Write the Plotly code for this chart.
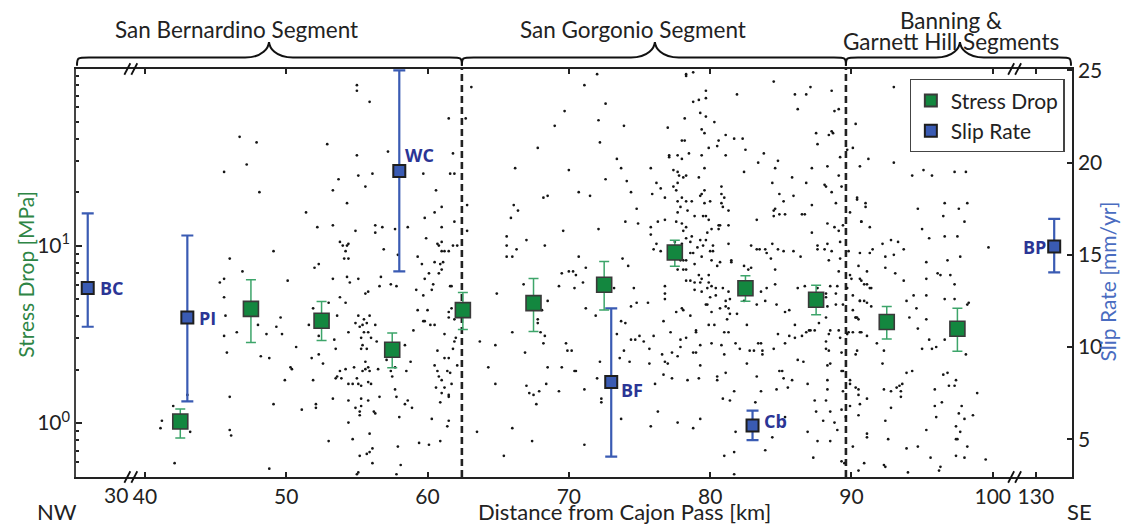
import plotly.graph_objects as go

# ---------------- data ----------------
# stress drop (MPa) binned along strike: distance [km], value, upper, lower
sd_km = [42.5, 47.5, 52.5, 57.5, 62.5, 67.5, 72.5, 77.5, 82.5, 87.5, 92.5, 97.5]
sd_val = [1.02, 4.40, 3.77, 2.59, 4.33, 4.74, 6.01, 9.14, 5.75, 4.95, 3.71, 3.40]
sd_hi = [1.20, 6.41, 4.84, 3.22, 5.44, 6.52, 8.13, 10.7, 6.75, 5.98, 4.54, 4.44]
sd_lo = [0.823, 2.84, 2.92, 2.05, 3.37, 3.28, 4.33, 7.66, 4.86, 4.07, 2.98, 2.54]

# slip-rate sites: real distance [km], rate, upper, lower (mm/yr)
sr_site = ["BC", "PI", "WC", "BF", "Cb", "BP"]
sr_km = [28.0, 43.0, 58.0, 73.0, 83.0, 131.3]
sr_val = [13.2, 11.6, 19.55, 8.1, 5.75, 15.45]
sr_hi = [17.25, 16.05, 25.0, 12.1, 6.55, 16.95]
sr_lo = [11.1, 7.05, 14.1, 4.05, 4.95, 14.05]

# x tick labels on the broken axis
tick_km = [40, 50, 60, 70, 80, 90, 100, 130]
segment_bounds_km = [62.43, 89.61]

# background events (distance km, value in right-axis units)
events = [
 (46.7,21.4),(47.9,21.1),(47.2,19.9),(45.6,19.5),(48.1,18.4),(51.4,17.3),(52.2,16.5),(49.1,15.2),
 (46.0,14.8),(52.3,14.5),(52.0,14.3),(46.9,14.1),(45.6,13.7),(45.3,13.5),(50.1,13.6),(45.6,12.7),
 (51.9,12.1),(45.7,11.7),(49.6,11.6),(51.6,11.2),(48.0,11.2),(49.3,11.1),(46.5,10.8),(48.6,10.7),
 (49.7,10.7),(45.6,10.6),(52.3,10.6),(50.7,10.0),(45.8,9.7),(48.2,9.5),(48.8,9.4),(51.8,9.4),
 (52.3,9.6),(52.6,9.1),(50.3,8.9),(50.4,8.8),(49.9,8.2),(51.9,8.2),(46.0,7.3),(49.1,6.9),
 (51.1,6.6),(52.1,6.9),(52.1,6.7),(43.0,7.4),(42.0,6.8),(41.2,6.0),(41.1,5.6),(43.2,5.4),
 (46.0,5.5),(46.1,5.2),(42.1,3.7),(48.8,3.4),
 (55.0,24.2),(55.0,23.9),(55.9,23.3),(52.9,21.0),(57.2,20.6),(55.0,20.4),(56.1,19.4),(55.1,19.3),
 (53.7,19.1),(53.3,18.5),(55.6,18.7),(59.7,19.4),(54.3,17.8),(53.3,16.6),(54.9,16.3),(56.3,16.6),
 (56.3,16.2),(56.8,16.5),(57.7,16.4),(58.6,16.5),(53.8,15.7),(54.0,15.5),(54.3,15.5),(54.4,15.6),
 (54.2,15.2),(54.1,14.8),(54.4,14.8),(56.9,15.3),(57.9,15.0),(53.3,13.7),(54.3,13.8),(54.5,13.5),
 (55.1,13.7),(56.7,13.8),(56.6,13.3),(57.4,13.4),(57.8,13.3),(55.8,13.0),(55.6,12.9),(53.8,12.7),
 (54.2,12.4),(53.0,12.4),(53.6,11.7),(55.1,11.7),(55.9,11.7),(55.5,11.5),(54.9,11.3),(55.2,11.1),
 (55.4,11.2),(55.7,11.3),(56.3,11.2),(54.4,10.8),(55.5,10.8),(55.8,10.8),(55.3,10.5),(56.0,10.5),
 (53.4,10.4),(55.4,10.1),(55.3,9.9),(55.7,9.9),(56.4,10.3),(53.5,9.9),(58.4,10.1),(55.6,9.2),
 (57.1,9.3),(58.8,9.2),(57.7,8.9),(53.8,8.7),(54.2,8.8),(54.8,8.9),(55.6,8.8),(55.4,8.7),
 (55.8,8.9),(55.9,8.7),(56.5,8.8),(57.4,8.7),(58.5,8.7),(57.5,8.4),(53.6,8.4),(53.9,8.3),
 (53.5,8.3),(54.4,8.0),(54.7,8.0),(55.0,8.3),(55.1,8.0),(55.3,7.9),(55.8,8.1),(56.0,8.0),
 (57.7,7.7),(53.3,7.2),(54.4,7.1),(55.3,7.2),(55.8,7.1),(56.6,7.3),(57.8,7.3),(58.6,7.1),
 (58.4,6.9),(58.9,6.7),(54.9,6.7),(55.3,6.8),(55.2,6.5),(55.2,6.3),(56.2,6.5),(56.3,6.4),
 (58.0,6.2),(54.4,5.9),(55.9,5.3),(53.0,4.9),(54.7,5.0),(57.9,4.6),(56.1,4.5),(55.9,4.3),
 (55.7,4.2),(55.2,4.1),(56.1,3.7),(58.1,3.6),(55.1,3.2),(55.0,3.1),(57.8,3.1),
 (61.5,22.4),(61.8,20.5),(61.6,19.4),(61.9,19.4),(60.6,18.5),(61.0,17.6),(60.5,17.3),(59.8,17.0),
 (61.9,16.8),(61.0,16.5),(59.9,15.9),(60.7,15.6),(61.0,15.7),(60.8,15.5),(61.0,15.2),(61.2,15.2),
 (61.5,15.2),(61.8,15.5),(62.1,15.5),(59.3,14.9),(59.6,14.5),(60.5,14.6),(61.1,14.6),(60.9,14.5),
 (61.0,14.2),(60.8,14.0),(60.1,14.0),(59.8,13.7),(60.4,13.4),(60.3,13.1),(59.2,13.1),(59.7,12.8),
 (61.6,13.3),(61.7,13.3),(59.3,12.0),(60.0,12.0),(59.7,11.4),(59.8,11.4),(60.2,11.2),(60.5,11.2),
 (59.0,10.9),(61.5,11.9),(61.5,11.6),(61.7,12.1),(61.9,11.5),(61.2,10.7),(62.0,10.5),(61.9,10.3),
 (60.7,9.8),(61.8,9.9),(61.2,9.4),(61.5,9.4),(60.5,9.0),(62.1,9.0),(60.8,8.4),(60.7,8.7),
 (61.4,8.7),(61.6,8.6),(61.0,8.2),(61.7,8.0),(60.6,7.8),(61.2,7.8),(61.5,7.4),(61.5,7.3),
 (61.0,7.5),(60.9,7.0),(60.3,6.1),(61.5,6.0),(61.4,5.7),(59.4,4.8),(60.1,4.7),(60.9,4.9),
 (63.1,24.1),(62.7,22.4),(62.8,17.7),(62.8,16.3),(69.7,22.8),(69.0,22.0),(67.8,20.8),(66.2,19.7),
 (70.0,19.6),(68.2,18.1),(68.5,18.2),(66.1,17.7),(66.4,17.4),(65.9,17.0),(69.6,16.3),(65.6,16.0),
 (67.0,15.8),(65.6,15.5),(66.3,15.3),(68.3,15.5),(65.6,14.9),(66.0,14.9),(69.5,14.0),(70.0,14.1),
 (70.3,14.1),(70.5,13.9),(69.3,13.3),(70.4,13.2),(66.8,13.4),(64.9,12.9),(68.5,12.5),(68.1,12.0),
 (67.8,11.5),(67.8,11.3),(68.0,10.8),(68.3,10.6),(68.2,10.2),(69.8,10.2),(69.9,9.8),(70.2,9.8),
 (66.0,10.8),(63.7,10.3),(64.8,10.1),(66.9,9.7),(64.3,8.9),(68.5,8.9),(69.5,8.9),(70.4,8.7),
 (64.8,8.0),(67.0,7.9),(67.2,7.5),(67.5,7.4),(67.9,7.6),(68.4,8.0),(69.3,7.6),(67.7,6.9),
 (63.5,5.4),(66.0,5.6),(67.4,4.9),(65.4,4.1),
 (72.0,24.8),(71.1,24.2),(78.3,24.8),(78.3,24.7),(78.8,24.9),(84.5,24.4),(87.1,24.1),(86.0,23.7),
 (86.8,23.7),(79.7,23.9),(81.9,23.7),(72.6,23.2),(78.8,23.3),(79.2,23.4),(79.7,23.5),(86.2,22.9),
 (72.1,22.3),(78.2,22.4),(79.3,22.7),(79.7,22.5),(80.3,22.2),(73.9,22.0),(77.0,21.9),(79.4,21.8),
 (79.6,21.6),(87.5,21.6),(81.1,21.5),(72.2,21.1),(78.0,21.2),(78.2,21.2),(80.6,21.2),(81.7,21.3),
 (82.3,21.3),(79.9,20.8),(80.5,20.9),(87.6,21.0),(82.5,20.7),(77.1,20.4),(77.1,20.3),(77.7,20.4),
 (78.0,20.2),(78.5,20.5),(79.4,20.4),(81.1,20.4),(83.8,20.5),(73.4,20.2),(84.8,20.1),(83.4,20.0),
 (73.7,19.7),(75.8,19.7),(77.4,19.6),(79.6,19.7),(82.4,19.5),(84.6,19.7),(87.2,19.7),(77.7,19.5),
 (77.8,19.3),(78.1,19.2),(78.3,19.3),(79.2,19.2),(72.6,19.1),(74.1,19.0),(85.8,19.2),(76.2,18.9),
 (77.7,18.9),(84.4,18.9),(86.8,18.9),(80.8,18.7),(88.1,18.8),(76.5,18.6),(77.4,18.7),(77.6,18.5),
 (74.4,18.4),(70.7,18.4),(71.5,18.2),(75.9,18.3),(76.8,18.1),(78.0,18.1),(79.6,18.5),(79.4,18.3),
 (79.3,18.2),(80.8,18.3),(81.0,18.1),(85.9,18.2),(84.9,18.3),
 (74.8,17.5),(77.7,17.9),(77.9,17.6),(78.3,17.9),(78.7,17.9),(79.6,17.8),(80.0,17.9),(80.8,17.8),
 (80.9,17.6),(81.3,17.4),(77.7,17.3),(78.4,17.4),(84.5,17.4),(84.6,17.5),(85.2,17.9),(85.3,17.2),
 (84.5,17.1),(84.9,17.2),(86.5,17.2),(86.7,17.2),(87.2,17.7),(74.0,16.8),(74.9,16.7),(76.3,16.8),
 (76.8,16.9),(77.6,16.8),(78.0,16.7),(75.8,16.5),(78.3,16.5),(79.5,17.1),(79.7,17.1),(78.9,17.1),
 (79.9,16.9),(80.6,16.6),(80.7,16.6),(81.3,16.6),(83.3,16.9),(72.1,16.4),(78.1,16.3),(80.1,16.4),
 (75.8,16.1),(78.7,16.0),(78.3,15.9),(78.6,15.7),(79.3,15.8),(79.7,15.8),(80.6,16.4),(79.8,16.2),
 (87.2,16.2),(76.2,15.6),(76.0,15.3),(76.5,15.2),(77.5,15.7),(78.0,15.6),(79.1,15.4),(79.5,15.5),
 (80.2,15.5),(81.3,15.6),(82.9,15.5),(83.3,15.3),(83.5,15.3),(83.9,15.3),(84.4,15.6),(84.8,15.3),
 (85.2,15.2),(85.9,15.2),(87.6,15.5),(87.6,15.3),(88.1,15.3),(70.7,14.9),(73.8,14.8),(77.5,14.8),
 (77.9,14.7),(78.1,14.7),(78.3,14.7),(78.6,15.1),(78.8,15.1),(80.0,15.2),(80.2,15.2),(79.4,14.9),
 (84.0,15.1),(84.3,14.8),(86.4,14.9),(81.5,14.7),(81.5,14.6),(71.2,14.3),(74.2,14.4),(77.7,14.2),
 (78.1,14.2),(78.3,14.2),(78.9,14.5),(80.1,14.7),(80.5,14.4),(80.7,14.6),(82.4,14.4),(82.7,14.2),
 (82.9,14.3),(84.6,14.2),
 (71.0,13.5),(73.2,13.2),(74.6,13.2),(76.8,13.3),(76.8,12.9),(76.8,12.6),(78.3,13.6),(78.6,13.6),
 (78.9,13.5),(79.2,13.9),(79.4,13.7),(79.9,13.9),(79.3,13.5),(79.9,13.5),(80.1,13.3),(80.4,13.2),
 (78.9,13.1),(79.4,13.0),(79.8,13.2),(80.0,12.7),(80.4,12.8),(80.9,13.2),(81.3,13.0),(81.4,12.6),
 (81.1,12.5),(80.7,12.1),(81.1,12.2),(81.3,12.1),(81.4,11.8),(81.2,11.5),(81.9,11.8),(82.4,12.5),
 (83.3,12.3),(83.6,13.0),(83.9,12.5),(84.0,13.2),(84.6,13.4),(84.7,12.3),(85.3,11.9),(85.6,12.0),
 (86.2,13.2),(86.7,13.3),(87.6,13.2),(88.2,12.7),(71.2,12.1),(71.9,11.7),(74.4,12.2),(74.8,12.4),
 (75.6,12.4),(77.6,11.9),(78.0,12.1),(78.1,12.0),(78.6,11.7),(79.7,12.3),(79.8,12.3),(80.1,11.9),
 (73.7,11.4),(74.0,11.3),(76.7,11.4),(79.9,11.2),(80.3,11.2),(82.6,11.2),(86.0,11.2),(87.7,11.3),
 (88.2,11.6),(87.0,10.9),(86.8,10.8),(87.1,10.9),(87.4,10.9),
 (73.4,10.7),(74.4,10.4),(74.7,10.4),(75.0,10.6),(75.3,10.3),(76.0,10.6),(77.2,10.8),(77.9,10.4),
 (78.3,10.5),(79.0,10.9),(79.0,10.8),(81.0,10.8),(81.3,10.8),(81.8,10.2),(84.8,10.7),(85.6,10.6),
 (86.0,10.5),(86.5,10.6),(83.4,10.2),(83.6,10.2),(73.9,9.8),(75.7,9.9),(77.3,9.7),(77.9,10.0),
 (78.8,9.7),(79.0,9.7),(79.3,10.1),(80.1,10.2),(80.8,10.1),(82.1,9.9),(82.8,9.8),(83.1,9.8),
 (83.7,9.8),(84.5,9.9),(85.3,10.2),(88.2,10.3),(88.2,9.9),(73.6,9.4),(74.3,9.2),(76.6,9.6),
 (76.8,9.2),(77.0,9.1),(77.7,9.5),(79.3,9.0),(81.0,9.6),(83.7,9.6),(86.2,9.3),(86.6,9.2),
 (72.2,9.2),(70.5,8.7),(75.7,9.1),(76.7,8.5),(77.3,8.3),(78.4,8.2),(79.2,8.3),(80.5,8.4),
 (80.5,8.2),(81.1,8.6),(82.6,9.1),(83.3,8.4),(84.9,8.7),(85.1,8.7),(85.2,8.3),(85.8,8.2),
 (86.9,8.0),(72.0,8.3),(76.1,8.0),(85.5,7.8),(83.6,7.6),(81.7,7.6),(80.9,7.2),(81.4,7.1),
 (83.2,7.0),(84.7,7.7),(87.4,7.1),(88.2,7.1),
 (72.3,7.2),(72.3,7.0),(71.1,7.7),(73.7,6.1),(76.3,6.5),(79.3,6.1),(77.7,5.9),(75.8,5.7),
 (78.8,5.6),(81.8,5.4),(84.4,5.1),(85.3,6.2),(87.5,6.5),(88.0,6.0),(86.9,5.4),(87.6,4.9),
 (71.1,4.7),(81.0,4.1),(81.7,4.3),(83.9,4.4),(87.3,4.0),(81.7,3.1),
 (88.6,23.9),(89.1,22.9),(88.8,22.8),(88.7,21.6),(88.4,21.5),(88.6,21.7),(90.3,22.1),(90.1,20.8),
 (89.7,20.7),(89.2,20.3),(88.3,19.8),(90.6,19.8),(89.1,19.3),(88.2,18.7),(89.3,18.7),(88.6,18.4),
 (90.4,18.0),(88.9,17.8),(89.9,17.3),(88.3,16.7),(88.8,16.5),(89.4,16.6),(90.7,16.8),(89.1,16.3),
 (88.3,15.6),(89.2,15.7),(88.6,15.2),(88.4,14.7),(89.2,14.8),(90.6,15.1),(89.8,15.2),(89.1,14.1),
 (89.9,13.9),(90.0,13.7),(90.6,13.7),(88.5,13.3),(89.0,13.3),(89.7,13.2),(88.2,12.9),(88.9,12.9),
 (90.1,12.8),(90.6,12.5),(89.4,12.3),(88.9,12.3),(88.3,12.2),(90.1,12.0),(90.5,11.5),(90.3,11.6),
 (89.1,10.9),(88.5,10.9),(89.2,10.5),(89.7,10.7),(89.8,10.8),(90.1,10.8),(88.4,10.7),(90.6,10.8),
 (88.4,9.8),(89.3,9.7),(90.4,9.8),(90.3,9.6),(88.5,9.1),(88.3,9.0),(89.3,8.7),(89.4,8.7),
 (89.9,8.2),(89.9,8.0),(88.3,8.2),(90.3,7.8),(90.5,7.7),(89.4,7.6),(88.3,7.7),(90.5,7.4),
 (91.1,7.2),(90.6,6.9),(89.9,6.8),(88.5,6.5),(89.3,6.6),(90.5,6.3),(88.8,5.9),(89.6,6.2),
 (89.0,5.5),(91.1,5.3),(91.1,5.1),(88.5,4.9),(90.1,4.6),(89.3,3.8),(89.5,3.7),(90.9,3.7),
 (92.3,3.6),(92.4,3.5),(90.5,3.3),
 (93.0,24.1),(91.2,20.2),(93.0,20.0),(94.3,19.3),(95.1,19.6),(95.7,19.3),(97.3,19.5),(98.1,19.5),
 (91.0,17.8),(91.0,17.6),(90.7,16.8),(91.3,16.5),(90.4,18.1),(94.7,17.5),(96.6,17.8),(96.5,17.1),
 (97.6,17.5),(98.2,17.8),(98.0,16.8),(95.0,16.4),(95.5,15.9),(96.6,16.0),(97.5,16.0),(91.5,15.3),
 (91.3,15.1),(92.2,15.6),(92.8,15.8),(93.3,15.7),(93.7,15.3),(93.0,15.0),(92.4,14.9),(92.4,14.3),
 (90.5,14.4),(91.1,14.1),(90.7,13.6),(90.9,13.4),(91.1,13.4),(91.3,13.2),(91.4,13.2),(93.1,14.0),
 (93.7,13.6),(95.3,14.6),(96.8,14.7),(97.7,14.9),(96.1,14.0),(96.3,13.9),(97.0,13.9),(95.3,13.7),
 (97.3,13.4),(94.4,12.8),(95.3,12.8),(96.6,12.6),(97.3,12.6),(98.2,12.3),(98.3,12.4),(94.1,11.6),
 (94.6,12.1),(95.3,11.5),(94.7,11.0),(90.6,12.5),(90.9,12.5),(91.1,12.4),(91.4,12.2),(90.3,11.6),
 (90.4,11.6),(90.7,10.8),(91.1,10.6),(91.8,10.2),(92.3,9.8),(93.9,12.5),(95.0,9.9),(95.5,10.4),
 (95.7,9.9),(96.0,10.0),(96.6,10.4),(98.1,9.6),(92.2,9.1),(93.9,8.6),(94.3,8.7),(96.5,8.5),
 (96.8,8.6),(97.4,8.2),(96.9,7.9),(97.3,7.9),(95.9,7.7),(98.9,7.5),(92.3,7.7),(92.8,7.6),
 (93.2,7.8),(93.4,7.9),(93.6,8.0),(93.5,7.6),(93.5,7.3),(92.8,6.7),(92.4,6.0),(95.9,6.8),
 (96.4,7.0),(96.0,6.2),(97.8,6.8),(97.6,6.4),(98.6,6.3),(98.0,6.1),(97.4,5.7),(97.7,5.4),
 (95.3,5.5),(92.6,5.0),(93.9,4.5),(94.7,4.6),(95.6,4.0),(96.3,3.5),(96.2,3.3),(97.4,4.1),
 (98.0,4.0),(99.5,3.9),(97.4,5.0),(97.5,5.0),(98.2,4.6),(94.0,3.2),(99.7,15.4),
]
event_km = [e[0] for e in events]
event_val = [e[1] for e in events]

# ---------------- broken-axis mapping ----------------
X_RANGE = [35.12, 105.61]
LEFT_BREAK_POS, RIGHT_BREAK_POS = 37.95, 103.05


def to_axis(km):
    if km < 40:
        return LEFT_BREAK_POS + (km - 30)
    if km > 100:
        return RIGHT_BREAK_POS + (km - 130)
    return km


def xpaper(v):
    return (v - X_RANGE[0]) / (X_RANGE[1] - X_RANGE[0])


FONT = "Lato"
GREEN = "#13873f"
GREEN_BAR = "#3da56a"
BLUE = "#3a5bb3"
LABEL_BLUE = "#2b3595"
INK = "#222222"

fig = go.Figure()

# background events (on base linear axis so they sit underneath)
fig.add_trace(go.Scatter(
    x=[to_axis(v) for v in event_km], y=event_val, mode="markers",
    marker=dict(size=2.7, color="#151515"), showlegend=False, hoverinfo="skip",
    yaxis="y"))

# slip rate
fig.add_trace(go.Scatter(
    x=[to_axis(v) for v in sr_km], y=sr_val, mode="markers", name="Slip Rate",
    legendrank=2, yaxis="y",
    marker=dict(symbol="square", size=12, color=BLUE, line=dict(color="#1e1e1e", width=2)),
    error_y=dict(type="data", symmetric=False,
                 array=[h - v for h, v in zip(sr_hi, sr_val)],
                 arrayminus=[v - l for v, l in zip(sr_val, sr_lo)],
                 color=BLUE, thickness=2.2, width=6)))

# stress drop (log axis overlay)
fig.add_trace(go.Scatter(
    x=sd_km, y=sd_val, mode="markers", name="Stress Drop", legendrank=1, yaxis="y2",
    marker=dict(symbol="square", size=15, color=GREEN, line=dict(color="#3a3a3a", width=1.6)),
    error_y=dict(type="data", symmetric=False,
                 array=[h - v for h, v in zip(sd_hi, sd_val)],
                 arrayminus=[v - l for v, l in zip(sd_val, sd_lo)],
                 color=GREEN_BAR, thickness=1.5, width=5)))

# site labels
label_shift = {"BC": (10, 0, "left"), "PI": (10, 0, "left"), "WC": (4, 16, "left"),
               "BF": (8, -8, "left"), "Cb": (9, 4, "left"), "BP": (-6, 0, "right")}
for s, km, v in zip(sr_site, sr_km, sr_val):
    dx, dy, anc = label_shift[s]
    fig.add_annotation(x=to_axis(km), y=v, xref="x", yref="y", text=f"<b>{s}</b>",
                       showarrow=False, xanchor=anc, yanchor="middle", xshift=dx, yshift=dy,
                       font=dict(family="Open Sans", size=18, color=LABEL_BLUE))

shapes = []
# segment boundaries
for b in segment_bounds_km:
    shapes.append(dict(type="line", xref="x", yref="paper", x0=b, x1=b, y0=0, y1=1,
                       line=dict(color=INK, width=2.6, dash="7px,4px"), layer="below"))


# braces over segments
def brace(xa, xb, xt):
    ye, yf, yt = 1.008, 1.028, 1.066
    c, t = 0.012, 0.024
    return (f"M {xa},{ye} C {xa},{yf} {xa},{yf} {xa + c},{yf} "
            f"L {xt - t},{yf} C {xt - 0.25 * t},{yf} {xt - 0.02 * t},{yt - 0.35 * (yt - yf)} {xt},{yt} "
            f"C {xt + 0.02 * t},{yt - 0.35 * (yt - yf)} {xt + 0.25 * t},{yf} {xt + t},{yf} "
            f"L {xb - c},{yf} C {xb},{yf} {xb},{yf} {xb},{ye}")


b1, b2 = xpaper(segment_bounds_km[0]), xpaper(segment_bounds_km[1])
for xa, xb, tip in [(0.001, b1, 48.78), (b1, b2, 76.09), (b2, 0.999, 97.68)]:
    shapes.append(dict(type="path", xref="paper", yref="paper", path=brace(xa, xb, xpaper(tip)),
                       line=dict(color="#111", width=2)))

# axis break marks
for v in [39.0, 101.55]:
    xp = xpaper(v)
    for yb in [0.0, 1.0]:
        for off in [-0.0035, 0.0035]:
            shapes.append(dict(type="line", xref="paper", yref="paper",
                               x0=xp + off - 0.003, x1=xp + off + 0.003,
                               y0=yb - 0.014, y1=yb + 0.014,
                               line=dict(color="#111", width=1.8)))

ann = [
    dict(text="San Bernardino Segment", x=0.1616, y=1.098, size=22.5),
    dict(text="San Gorgonio Segment", x=0.559, y=1.098, size=22.5),
    dict(text="Banning &amp;", x=0.8785, y=1.1195, size=22.5),
    dict(text="Garnett Hill Segments", x=0.8785, y=1.0665, size=22.5),
    dict(text="Distance from Cajon Pass [km]", x=0.551, y=-0.084, size=22),
    dict(text="NW", x=-0.019, y=-0.084, size=22),
    dict(text="SE", x=1.008, y=-0.084, size=22),
]
for a in ann:
    fig.add_annotation(xref="paper", yref="paper", showarrow=False, xanchor="center",
                       yanchor="middle", font=dict(family=FONT, size=a["size"], color=INK),
                       text=a["text"], x=a["x"], y=a["y"])

fig.add_annotation(x=LEFT_BREAK_POS, y=-0.044, xref="x", yref="paper", text="30", showarrow=False,
                   xanchor="center", yanchor="middle", font=dict(family=FONT, size=21, color=INK))
fig.add_annotation(x=-0.066, y=0.4975, xref="paper", yref="paper", text="Stress Drop [MPa]",
                   textangle=-90, showarrow=False, font=dict(family=FONT, size=21, color="#2e8545"))
fig.add_annotation(x=1.05, y=0.48, xref="paper", yref="paper", text="Slip Rate [mm/yr]",
                   textangle=-90, showarrow=False, font=dict(family=FONT, size=21, color="#4a6cc0"))

fig.update_layout(
    width=1123, height=525, margin=dict(l=76, r=51, t=69, b=48),
    plot_bgcolor="white", paper_bgcolor="white",
    font=dict(family=FONT, size=21, color=INK),
    shapes=shapes,
    xaxis=dict(range=X_RANGE, showline=True, linecolor=INK, linewidth=1.5, mirror="ticks",
               ticks="inside", ticklen=5, tickwidth=2, tickcolor=INK, showgrid=False,
               zeroline=False, tickvals=[to_axis(v) for v in tick_km],
               ticktext=[str(v) for v in tick_km], tickfont=dict(size=21)),
    yaxis=dict(range=[2.95, 25.08], side="right", showline=True, linecolor=INK, linewidth=1.5,
               ticks="inside", ticklen=5, tickwidth=1.5, tickcolor=INK, showgrid=False,
               zeroline=False, tickvals=[5, 10, 15, 20, 25], tickfont=dict(size=21)),
    yaxis2=dict(type="log", range=[-0.304, 1.995], side="left", overlaying="y", showline=True,
                linecolor="#444", linewidth=1.5, ticks="inside", ticklen=6, tickwidth=1.5,
                tickcolor=INK, showgrid=False, zeroline=False,
                tickvals=[1, 10, 100], ticktext=["10<sup>0</sup>", "10<sup>1</sup>", "10<sup>2</sup>"],
                tickfont=dict(size=21),
                minor=dict(tickmode="array",
                           tickvals=[0.6, 0.7, 0.8, 0.9, 2, 3, 4, 5, 6, 7, 8, 9,
                                     20, 30, 40, 50, 60, 70, 80, 90],
                           ticks="inside", ticklen=3, tickwidth=1.5, tickcolor=INK,
                           showgrid=False)),
    legend=dict(x=0.837, y=0.975, xanchor="left", yanchor="top", bgcolor="white",
                bordercolor="#444", borderwidth=1.2, font=dict(family=FONT, size=21, color=INK),
                itemsizing="constant"),
)

fig.write_html("out.html")
